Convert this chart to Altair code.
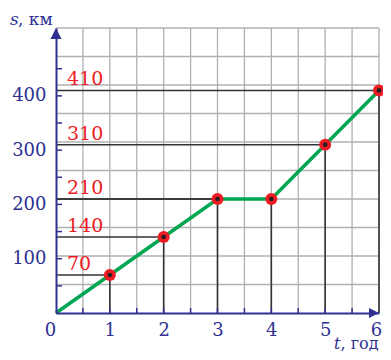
import altair as alt
import pandas as pd

# ---- data ----
t_hours = [0, 1, 2, 3, 4, 5, 6]
s_km = [0, 70, 140, 210, 210, 310, 410]
marked_t = [1, 2, 3, 4, 5, 6]
marked_s = [70, 140, 210, 210, 310, 410]
label_s = [70, 140, 210, 310, 410]
x_tick_labels = [0, 1, 2, 3, 4, 5, 6]
y_tick_labels = [100, 200, 300, 400]
x_minor_ticks = [0.5, 1, 1.5, 2, 2.5, 3, 3.5, 4, 4.5, 5, 5.5]
y_minor_ticks = [50, 100, 150, 200, 250, 300, 350, 400, 450]
grid_t = [0.5, 1, 1.5, 2, 2.5, 3, 3.5, 4, 4.5, 5, 5.5, 6]
grid_s = [52.5, 105, 157.5, 210, 262.5, 315, 367.5, 420, 472.5, 525]
T_MAX = 6
S_MAX = 525

# ---- style ----
NAVY = "#2e3192"
RED = "#ed1c24"
GREEN = "#00a651"
GRID = "#b0b0b0"
DARK = "#333333"
FONT = "DejaVu Serif"
W, H = 323, 285

xs = alt.Scale(domain=[0, T_MAX], nice=False, zero=False)
ys = alt.Scale(domain=[0, S_MAX], nice=False, zero=False)

x_axis = alt.Axis(values=x_tick_labels, grid=False, ticks=False, tickSize=0,
                  domainColor=NAVY, domainWidth=2, labelColor=NAVY, labelFont=FONT,
                  labelFontSize=18, labelPadding=8, labelFlush=False, labelOverlap=False,
                  labelOffset={"condition": [
                      {"test": "datum.value === 0", "value": -6},
                      {"test": "datum.value === 6", "value": -3}], "value": 0},
                  title=None, zindex=1)
y_axis = alt.Axis(values=y_tick_labels, grid=False, ticks=False, tickSize=0,
                  domainColor=NAVY, domainWidth=2, labelColor=NAVY, labelFont=FONT,
                  labelFontSize=18, labelPadding=10, labelFlush=False, labelOverlap=False,
                  title=None, zindex=1)

main_df = pd.DataFrame({"t": t_hours, "s": s_km})
pts_df = pd.DataFrame({"t": marked_t, "s": marked_s, "lo": 0})
vgrid_df = pd.DataFrame({"t": grid_t, "lo": 0, "hi": S_MAX})
hgrid_df = pd.DataFrame({"s": grid_s, "lo": 0, "hi": T_MAX})
lab_df = pd.DataFrame({"s": label_s, "lab": [str(v) for v in label_s]})
xt_df = pd.DataFrame({"t": x_minor_ticks})
yt_df = pd.DataFrame({"s": y_minor_ticks})

def X(f):
    return alt.X(f, type="quantitative", scale=xs, axis=x_axis)

def Y(f):
    return alt.Y(f, type="quantitative", scale=ys, axis=y_axis)

vgrid = alt.Chart(vgrid_df).mark_rule(color=GRID, strokeWidth=1.3).encode(
    x=X("t"), y=Y("lo"), y2="hi")
hgrid = alt.Chart(hgrid_df).mark_rule(color=GRID, strokeWidth=1.3).encode(
    y=Y("s"), x=X("lo"), x2="hi")

vconn = alt.Chart(pts_df).mark_rule(color=DARK, strokeWidth=1.6).encode(
    x=X("t"), y=Y("lo"), y2="s")
hconn = alt.Chart(pts_df).mark_rule(color=DARK, strokeWidth=1.6).encode(
    y=Y("s"), x=X("lo"), x2="t")

xticks = alt.Chart(xt_df).mark_rule(color=NAVY, strokeWidth=1.5).encode(
    x=X("t"), y=alt.value(H), y2=alt.value(H - 5))
yticks = alt.Chart(yt_df).mark_rule(color=NAVY, strokeWidth=1.5).encode(
    y=Y("s"), x=alt.value(0), x2=alt.value(6))

line = alt.Chart(main_df).mark_line(color=GREEN, strokeWidth=3.5).encode(
    x=X("t"), y=Y("s"))

dots = alt.Chart(pts_df).mark_circle(color=RED, size=145, opacity=1).encode(
    x=X("t"), y=Y("s"))
centers = alt.Chart(pts_df).mark_circle(color="#231f20", size=22, opacity=1).encode(
    x=X("t"), y=Y("s"))

arrow_up = alt.Chart(pd.DataFrame({"t": [0], "s": [S_MAX]})).mark_point(
    shape="M0,0L-1,2L1,2Z", filled=True, size=121, color=NAVY, opacity=1).encode(
    x=X("t"), y=Y("s"))
arrow_right = alt.Chart(pd.DataFrame({"t": [T_MAX], "s": [0]})).mark_point(
    shape="M0,0L-2,-1L-2,1Z", filled=True, size=100, color=NAVY, opacity=1).encode(
    x=X("t"), y=Y("s"))

labels = alt.Chart(lab_df).mark_text(
    align="left", baseline="alphabetic", dy=-5, font=FONT, fontSize=19, color=RED).encode(
    y=Y("s"), x=alt.value(11), text="lab")

title_df = pd.DataFrame({"a": [0]})
s_it = alt.Chart(title_df).mark_text(
    text="s", align="left", baseline="alphabetic", font=FONT, fontSize=17,
    fontStyle="italic", color=NAVY).encode(x=alt.value(-46), y=alt.value(-3.5))
s_unit = alt.Chart(title_df).mark_text(
    text=", км", align="left", baseline="alphabetic", font=FONT, fontSize=17,
    color=NAVY).encode(x=alt.value(-38), y=alt.value(-3.5))
t_it = alt.Chart(title_df).mark_text(
    text="t", align="left", baseline="alphabetic", font=FONT, fontSize=16,
    fontStyle="italic", color=NAVY).encode(x=alt.value(278), y=alt.value(320.5))
t_unit = alt.Chart(title_df).mark_text(
    text=", год", align="left", baseline="alphabetic", font=FONT, fontSize=16,
    color=NAVY).encode(x=alt.value(284.5), y=alt.value(320.5))

chart = alt.layer(
    vgrid, hgrid, vconn, hconn, line, xticks, yticks, arrow_up, arrow_right,
    dots, centers, labels, s_it, s_unit, t_it, t_unit
).properties(
    width=W, height=H,
    autosize=alt.AutoSizeParams(type="none"),
    padding={"left": 48, "top": 20, "right": 4, "bottom": 39},
    background="white",
).configure_view(stroke=None)

chart.save("out.html", embed_options={"renderer": "svg", "actions": False})
